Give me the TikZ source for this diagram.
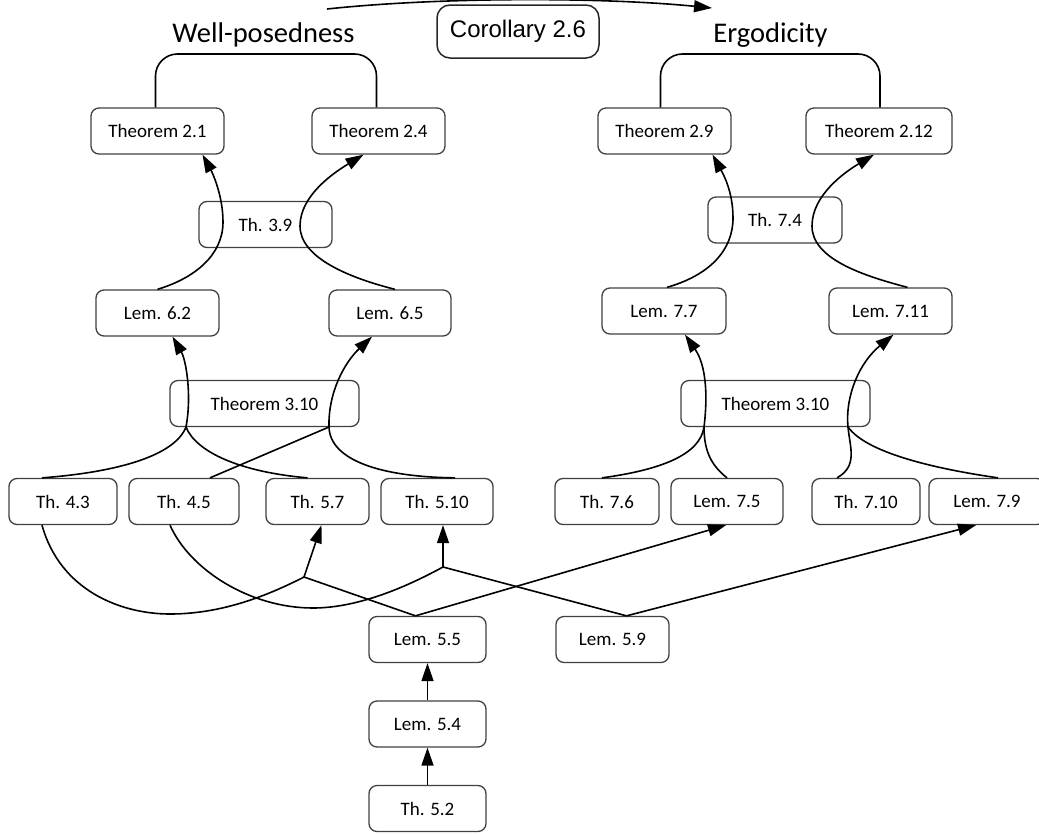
\documentclass[tikz,border=0pt]{standalone}
\usepackage{fontspec}
\setmainfont{Carlito}
\newfontfamily\corfont{Liberation Sans}
\usepackage{tikz}
\usetikzlibrary{arrows.meta}

\begin{document}
\begin{tikzpicture}[
    x=1pt, y=-1pt,
    thmbox/.style={rectangle, rounded corners=8pt, draw=black!75, line width=1.3pt, minimum height=46pt,
        inner sep=0pt, align=center, font=\fontsize{19}{22}\selectfont},
    corbox/.style={rectangle, rounded corners=13pt, draw=black!85, line width=1.5pt, minimum width=162pt,
        minimum height=53pt, inner sep=0pt, font=\corfont\fontsize{24}{28}\selectfont},
    title/.style={inner sep=0pt, anchor=base, font=\fontsize{28.5}{32}\selectfont},
    ln/.style={line width=1.6pt, black},
    arr/.style={-{Triangle[length=18pt, width=12pt]}, line width=1.6pt, black}
]
\useasboundingbox (0,0) rectangle (1039,835);

\node[title] (wp)   at (263.5,42) {Well-posedness};
\node[title] (ergo) at (770.5,42) {Ergodicity};
\node[corbox] (cor) at (518,31.5) {Corollary 2.6};

\node[thmbox, minimum width=133pt] (t21)  at (157.5,131) {Theorem 2.1};
\node[thmbox, minimum width=133pt] (t24)  at (378.5,131) {Theorem 2.4};
\node[thmbox, minimum width=133pt] (t29)  at (664.5,131) {Theorem 2.9};
\node[thmbox, minimum width=146pt] (t212) at (879,131)   {Theorem 2.12};

\node[thmbox, minimum width=133pt] (t39) at (265.5,224.5) {Th. 3.9};
\node[thmbox, minimum width=134pt] (t74) at (775,220)     {Th. 7.4};

\node[thmbox, minimum width=123pt] (l62)  at (157.5,313) {Lem. 6.2};
\node[thmbox, minimum width=122pt] (l65)  at (390,313)   {Lem. 6.5};
\node[thmbox, minimum width=124pt] (l77)  at (664,311)   {Lem. 7.7};
\node[thmbox, minimum width=123pt] (l711) at (890.5,311) {Lem. 7.11};

\node[thmbox, minimum width=189pt] (t310a) at (264.5,403.5) {Theorem 3.10};
\node[thmbox, minimum width=189pt] (t310b) at (775.5,403.5) {Theorem 3.10};

\node[thmbox, minimum width=108pt] (t43)  at (63,501.5)    {Th. 4.3};
\node[thmbox, minimum width=110pt] (t45)  at (184,501.5)   {Th. 4.5};
\node[thmbox, minimum width=103pt] (t57)  at (317.5,501.5) {Th. 5.7};
\node[thmbox, minimum width=112pt] (t510) at (437,501.5)   {Th. 5.10};
\node[thmbox, minimum width=104pt] (t76)  at (607,501.5)   {Th. 7.6};
\node[thmbox, minimum width=112pt] (l75)  at (727,501.5)   {Lem. 7.5};
\node[thmbox, minimum width=108pt] (t710) at (866,501.5)   {Th. 7.10};
\node[thmbox, minimum width=116pt] (l79)  at (987,501.5)   {Lem. 7.9};

\node[thmbox, minimum width=117pt] (l55) at (427.5,639.5) {Lem. 5.5};
\node[thmbox, minimum width=113pt] (l59) at (612.5,639.5) {Lem. 5.9};
\node[thmbox, minimum width=117pt] (l54) at (427.5,724)   {Lem. 5.4};
\node[thmbox, minimum width=117pt] (t52) at (427.5,808.5) {Th. 5.2};

\coordinate (cs) at (327,9);
\coordinate (ce) at (712,8);
\draw[arr] (cs) .. controls (440,-3) and (600,-3) .. (ce);

\draw[ln, rounded corners=22pt] ([xshift=-2pt]t21.north) |- (265,54) -| ([xshift=-2pt]t24.north);
\draw[ln, rounded corners=22pt] ([xshift=-4pt]t29.north) |- (770,54) -| ([xshift=1pt]t212.north);

\draw[arr] (l62.north) .. controls (195,278) and (223,255) .. (223,222) .. controls (223,195) and (212,172) .. ([xshift=45pt]t21.south);
\draw[arr] ([xshift=5pt]l65.north) .. controls (350,278) and (300,258) .. (300,226) .. controls (300,195) and (335,172) .. ([xshift=-15pt]t24.south);
\draw[arr] ([xshift=3pt]l77.north) .. controls (710,275) and (733,250) .. (733,218) .. controls (733,190) and (722,172) .. ([xshift=48pt]t29.south);
\draw[arr] ([xshift=17pt]l711.north) .. controls (860,275) and (812,258) .. (812,226) .. controls (812,195) and (845,172) .. ([xshift=-5pt]t212.south);

\coordinate (jl1) at (186,427);
\coordinate (jl2) at (329,427);
\coordinate (jr1) at (704,427);
\coordinate (jr2) at (848,427);
\draw[arr] ([xshift=-21pt]t43.north) .. controls (120,472) and (175,455) .. (jl1) .. controls (192,395) and (186,360) .. ([xshift=15pt]l62.south);
\draw[ln] ([xshift=-10pt]t57.north) .. controls (240,472) and (196,452) .. (jl1);
\draw[arr] ([xshift=18pt]t510.north) .. controls (380,477) and (330,460) .. (jl2) .. controls (328,392) and (345,362) .. ([xshift=-18pt]l65.south);
\draw[ln] ([xshift=26pt]t45.north) -- (jl2);
\draw[arr] ([xshift=-5pt]t76.north) .. controls (660,470) and (700,455) .. (jr1) .. controls (708,395) and (706,365) .. ([xshift=21pt]l77.south);
\draw[ln] (l75.north) .. controls (712,466) and (704,452) .. (jr1);
\draw[arr] ([xshift=-29pt]t710.north) .. controls (858,466) and (850,448) .. (jr2) .. controls (845,395) and (860,362) .. ([xshift=3pt]l711.south);
\draw[ln] ([xshift=11pt]l79.north) .. controls (930,468) and (866,452) .. (jr2);

\coordinate (ja) at (304,577);
\coordinate (jb) at (443,567);
\draw[arr] (t52) -- (l54);
\draw[arr] (l54) -- (l55);
\draw[ln] ([xshift=-12pt]l55.north) -- (ja);
\draw[arr] (ja) -- ([xshift=4pt]t57.south);
\draw[arr] ([xshift=-12pt]l55.north) -- ([xshift=-1pt]l75.south);
\draw[arr] (jb) -- ([xshift=6pt]t510.south);
\draw[ln] (jb) -- ([xshift=14pt]l59.north);
\draw[arr] ([xshift=14pt]l59.north) -- ([xshift=-11pt]l79.south);
\draw[ln] ([xshift=-21pt]t43.south) .. controls (60,590) and (120,614) .. (170,614) .. controls (220,614) and (265,597) .. (ja);
\draw[ln] ([xshift=-14pt]t45.south) .. controls (190,570) and (250,608) .. (313,608) .. controls (360,608) and (410,585) .. (jb);
\end{tikzpicture}
\end{document}
